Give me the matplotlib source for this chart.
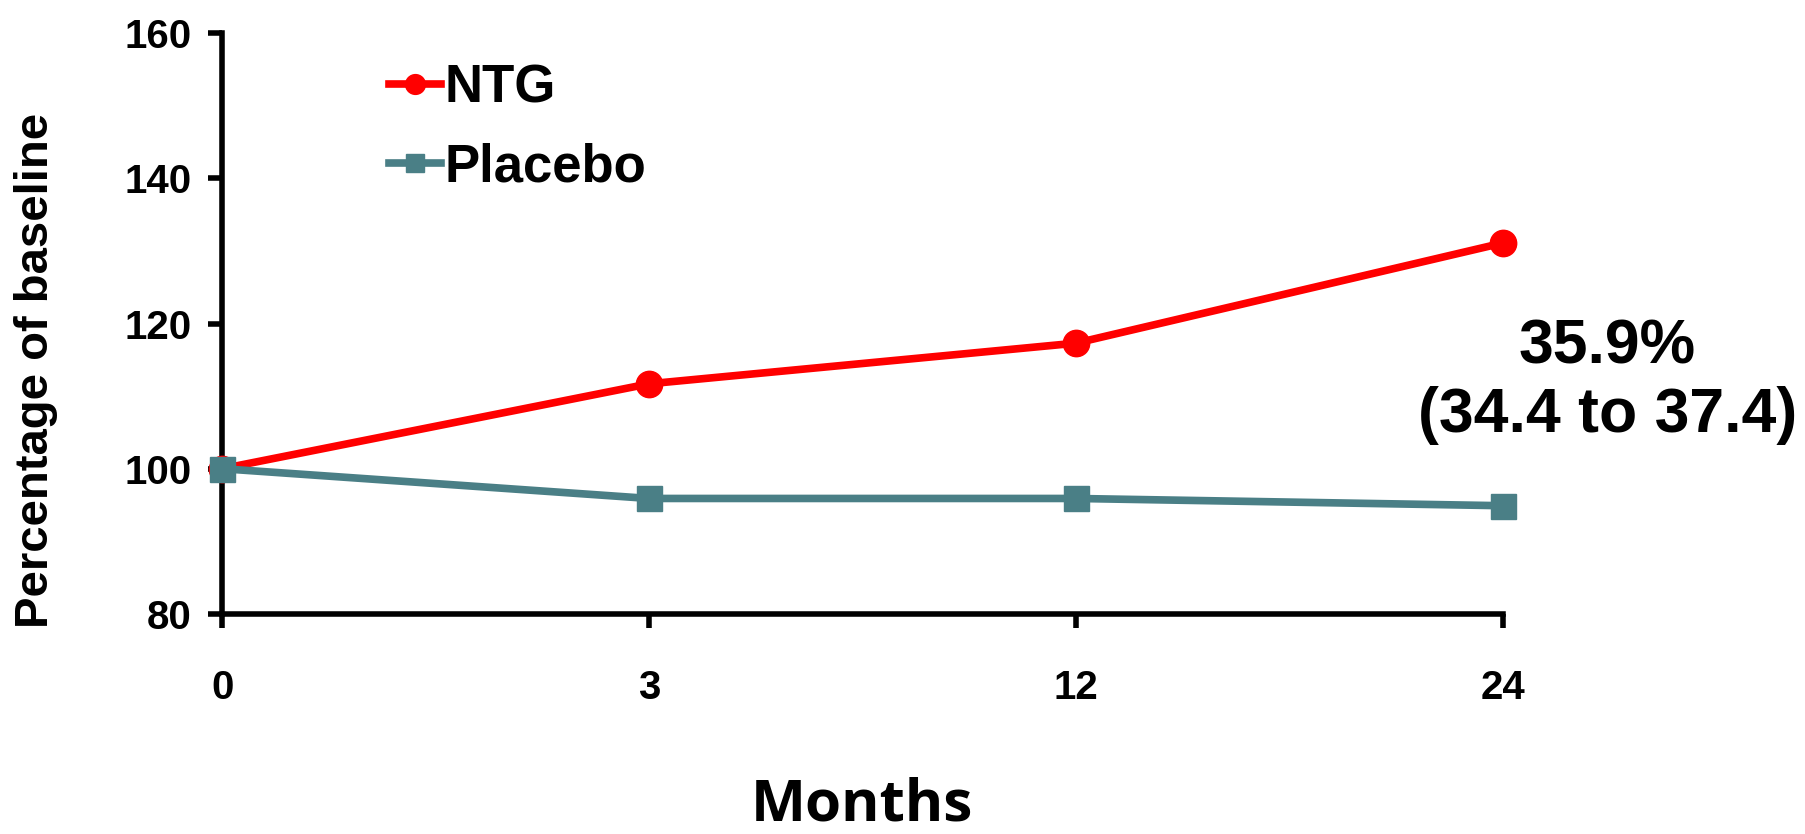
import matplotlib
matplotlib.use("Agg")
import matplotlib.pyplot as plt

months = ["0", "3", "12", "24"]
ntg = [100, 111.7, 117.3, 131.1]
placebo = [100, 95.9, 95.9, 94.9]
note = "35.9%\n(34.4 to 37.4)"

plt.rcParams["font.family"] = ["Liberation Sans", "DejaVu Sans"]
plt.rcParams["font.weight"] = "bold"

fig = plt.figure(figsize=(18.06, 8.34), dpi=100)
ax = fig.add_axes([0.123, 0.264, 0.709, 0.696])

x = range(len(months))
ax.plot(x, ntg, color="#ff0000", lw=5.5, marker="o", ms=19, label="NTG", clip_on=False, zorder=3)
ax.plot(x, placebo, color="#4a7f86", lw=5.5, marker="s", ms=18, label="Placebo", clip_on=False, zorder=3)

ax.set_xlim(0, len(months) - 1)
ax.set_ylim(80, 160)
ax.set_xticks(list(x))
ax.set_xticklabels(months)
ax.set_yticks([80, 100, 120, 140, 160])

for s in ["top", "right"]:
    ax.spines[s].set_visible(False)
for s in ["left", "bottom"]:
    ax.spines[s].set_linewidth(4)
ax.tick_params(axis="both", direction="out", length=10, width=4, labelsize=29)
ax.tick_params(axis="x", pad=30)
ax.tick_params(axis="y", pad=12)
for lab in ax.get_xticklabels() + ax.get_yticklabels():
    lab.set_fontweight("bold")

ax.set_ylabel("Percentage of baseline", fontsize=34, fontweight="bold")
ax.yaxis.set_label_coords(-0.128, 0.42)
fig.text(0.477, 0.034, "Months", fontsize=42, fontweight="bold",
         family=["Open Sans", "DejaVu Sans"], ha="center", va="center")

fig.text(0.890, 0.543, note, fontsize=45, fontweight="bold", ha="center", va="center",
         linespacing=1.2)

leg = ax.legend(loc="upper left", bbox_to_anchor=(0.093, 1.03), frameon=False,
                fontsize=38, handlelength=1.0, handletextpad=0.05, labelspacing=0.55,
                markerscale=0.75)
for t in leg.get_texts():
    t.set_fontweight("bold")

fig.savefig("out.png", dpi=100)
